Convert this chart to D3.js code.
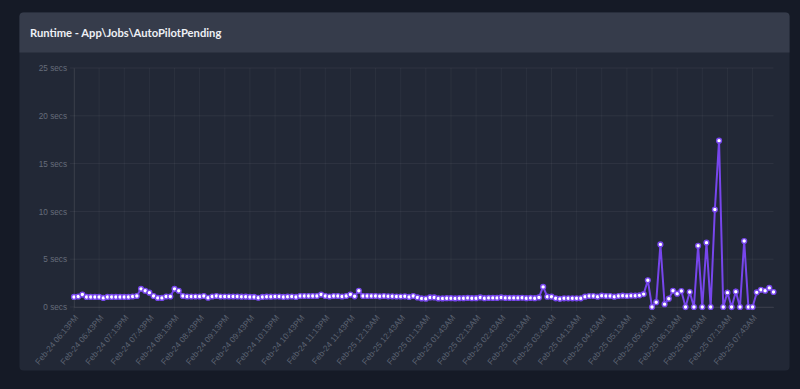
<!DOCTYPE html>
<html>
<head>
<meta charset="utf-8">
<script src="https://cdn.jsdelivr.net/npm/d3@7/dist/d3.min.js"></script>
<style>
  html, body { margin: 0; padding: 0; background: #151a26; }
  #chart { width: 800px; height: 389px; }
</style>
</head>
<body>
<div id="chart"></div>
<script>
const title = "Runtime - App\\Jobs\\AutoPilotPending"

// one label per 6 points (30 min), points every 5 min
const tickLabels = [
  "Feb-24 06:13PM", "Feb-24 06:43PM", "Feb-24 07:13PM", "Feb-24 07:43PM",
  "Feb-24 08:13PM", "Feb-24 08:43PM", "Feb-24 09:13PM", "Feb-24 09:43PM",
  "Feb-24 10:13PM", "Feb-24 10:43PM", "Feb-24 11:13PM", "Feb-24 11:43PM",
  "Feb-25 12:13AM", "Feb-25 12:43AM", "Feb-25 01:13AM", "Feb-25 01:43AM",
  "Feb-25 02:13AM", "Feb-25 02:43AM", "Feb-25 03:13AM", "Feb-25 03:43AM",
  "Feb-25 04:13AM", "Feb-25 04:43AM", "Feb-25 05:13AM", "Feb-25 05:43AM",
  "Feb-25 06:13AM", "Feb-25 06:43AM", "Feb-25 07:13AM", "Feb-25 07:43AM",
]
const labelEvery = 6

const yTicks = [0, 5, 10, 15, 20, 25]

// runtime in seconds
const runtime = [
  1.05, 1.1, 1.3, 1.05, 1.05, 1.05, 1.05, 0.95, 1.05, 1.05,
  1.05, 1.05, 1.05, 1.05, 1.1, 1.15, 1.9, 1.7, 1.5, 1.15,
  0.95, 0.95, 1.1, 1.1, 1.9, 1.7, 1.15, 1.1, 1.1, 1.1,
  1.1, 1.15, 0.97, 1.1, 1.15, 1.1, 1.1, 1.1, 1.1, 1.1,
  1.08, 1.08, 1.05, 1.05, 0.97, 1.05, 1.08, 1.08, 1.1, 1.1,
  1.05, 1.08, 1.1, 1.05, 1.15, 1.15, 1.15, 1.15, 1.15, 1.3,
  1.15, 1.1, 1.15, 1.15, 1.1, 1.15, 1.3, 1.12, 1.7, 1.15,
  1.15, 1.15, 1.15, 1.12, 1.15, 1.12, 1.12, 1.1, 1.1, 1.12,
  1.05, 1.15, 1.0, 0.9, 0.87, 1.0, 1.0, 0.9, 0.9, 0.92,
  0.92, 0.9, 0.92, 0.92, 0.95, 0.92, 0.92, 1.0, 0.92, 0.95,
  0.95, 0.95, 1.0, 0.95, 0.95, 0.95, 0.95, 0.97, 0.92, 0.95,
  0.92, 1.0, 2.1, 1.08, 1.08, 0.91, 0.85, 0.91, 0.91, 0.91,
  0.91, 0.91, 1.08, 1.15, 1.15, 1.08, 1.18, 1.15, 1.15, 1.08,
  1.15, 1.18, 1.15, 1.18, 1.18, 1.22, 1.35, 2.8, 0, 0.5,
  6.55, 0.3, 0.87, 1.7, 1.39, 1.67, 0, 1.57, 0, 6.4,
  0, 6.73, 0, 10.2, 17.4, 0, 1.5, 0, 1.6, 0,
  6.9, 0, 0, 1.53, 1.8, 1.7, 2.0, 1.57,
]

const W = 800, H = 389
const card = {x: 19.5, y: 12.5, w: 770, h: 358, head: 40}
const m = {left: 74, right: 773.5, top: 68, bottom: 307}
const purple = "#7746ec"

const svg = d3.select("#chart").append("svg").attr("width", W).attr("height", H)

svg.append("rect")
  .attr("x", card.x).attr("y", card.y).attr("width", card.w).attr("height", card.h)
  .attr("rx", 4).attr("fill", "#222836")

svg.append("path")
  .attr("d", `M${card.x},${card.y + card.head} V${card.y + 4} q0,-4 4,-4 H${card.x + card.w - 4} q4,0 4,4 V${card.y + card.head} Z`)
  .attr("fill", "#363c4b")

svg.append("text")
  .attr("x", 30).attr("y", 37)
  .attr("font-family", "Lato, sans-serif").attr("font-size", 11.2).attr("font-weight", 700)
  .attr("fill", "#eef0f5")
  .text(title)

const x = d3.scalePoint().domain(d3.range(runtime.length)).range([m.left, m.right])
const y = d3.scaleLinear().domain([0, 25]).range([m.bottom, m.top])

const g = svg.append("g")

// horizontal grid
g.append("g")
  .selectAll("line")
  .data(yTicks)
  .join("line")
  .attr("x1", m.left - 4).attr("x2", m.right)
  .attr("y1", (d) => y(d)).attr("y2", (d) => y(d))
  .attr("stroke", "rgba(255,255,255,0.06)")

const tickIdx = tickLabels.map((_, i) => i * labelEvery)

// vertical grid
g.append("g")
  .selectAll("line")
  .data(tickIdx)
  .join("line")
  .attr("x1", (d) => x(d)).attr("x2", (d) => x(d))
  .attr("y1", m.top).attr("y2", m.bottom + 4)
  .attr("stroke", "rgba(255,255,255,0.045)")

// y axis
const yAxis = g.append("g")
  .attr("transform", `translate(${m.left},0)`)
  .call(d3.axisLeft(y).tickValues(yTicks).tickFormat((d) => `${d} secs`).tickSize(0).tickPadding(7))
yAxis.select(".domain").attr("stroke", "rgba(255,255,255,0.07)")
yAxis.selectAll("text")
  .attr("font-family", "'Liberation Sans', Arial, sans-serif").attr("font-size", 8.2)
  .attr("fill", "#666d7b")

// x axis
const xAxis = g.append("g")
  .attr("transform", `translate(0,${m.bottom})`)
  .call(d3.axisBottom(x).tickValues(tickIdx).tickFormat((d) => tickLabels[d / labelEvery]).tickSize(0))
xAxis.select(".domain").attr("stroke", "rgba(255,255,255,0.07)")
xAxis.selectAll("text")
  .attr("font-family", "'Liberation Sans', Arial, sans-serif").attr("font-size", 8.3)
  .attr("fill", "#5c6372")
  .attr("text-anchor", "end")
  .attr("y", 0).attr("dy", "0.35em")
  .attr("transform", "translate(2,9) rotate(-50)")

// line
const line = d3.line()
  .x((d, i) => x(i))
  .y((d) => y(d))

g.append("path")
  .datum(runtime)
  .attr("fill", "none")
  .attr("stroke", purple)
  .attr("stroke-width", 2)
  .attr("d", line)

g.append("g")
  .selectAll("circle")
  .data(runtime)
  .join("circle")
  .attr("cx", (d, i) => x(i))
  .attr("cy", (d) => y(d))
  .attr("r", 2.4)
  .attr("fill", "#ffffff")
  .attr("stroke", purple)
  .attr("stroke-width", 1.4)
</script>
</body>
</html>
